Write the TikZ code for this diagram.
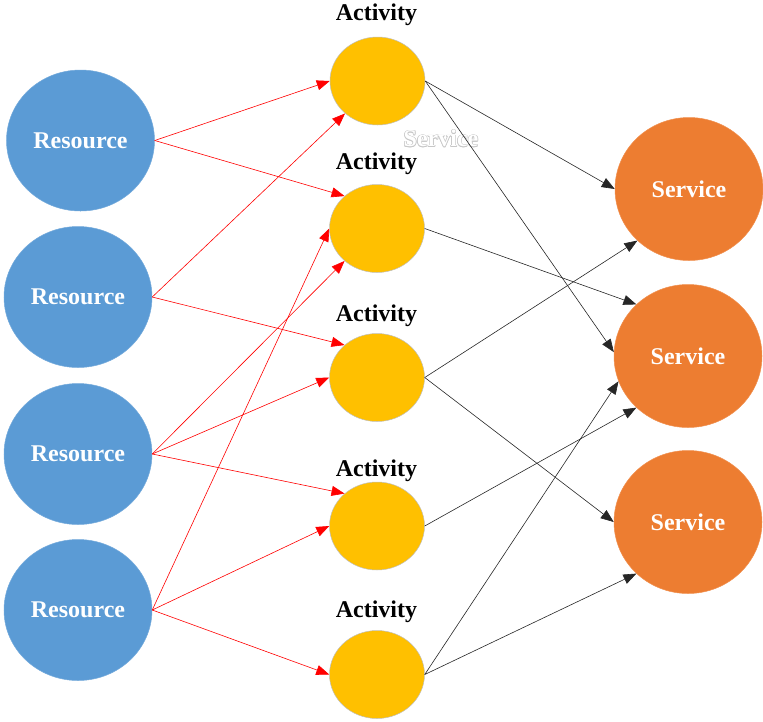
\documentclass[tikz,border=0pt]{standalone}
\usepackage{fontspec}
\setmainfont{Liberation Serif}
\usetikzlibrary{arrows.meta,shapes.geometric}
\definecolor{resblue}{HTML}{5B9BD5}
\definecolor{actyellow}{HTML}{FFC000}
\definecolor{svcorange}{HTML}{ED7D31}
\begin{document}
\begin{tikzpicture}[x=1pt,y=-1pt,
  lbl/.style={font=\fontsize{24}{28}\selectfont\bfseries, inner sep=0pt},
  res/.style={ellipse, inner sep=0pt, minimum width=148pt, minimum height=141pt,
    fill=resblue, draw=resblue!85!white, line width=0.5pt, text=white, lbl},
  act/.style={ellipse, inner sep=0pt, minimum width=95pt, minimum height=88pt,
    fill=actyellow, draw=black!25, line width=0.5pt},
  svc/.style={ellipse, inner sep=0pt, minimum width=148pt, minimum height=143pt,
    fill=svcorange, draw=svcorange!85!white, line width=0.5pt, text=white, lbl},
  actlabel/.style={lbl, text=black},
  uses/.style={draw=red, line width=0.6pt, -{Triangle[length=13pt,width=10pt]}},
  feeds/.style={draw=black!85, line width=0.6pt, -{Triangle[length=13pt,width=10pt]}},
]
\useasboundingbox (0,0) rectangle (763,721);

% faint outlined caption left over between the columns
\foreach \dx/\dy [count=\k] in {0.6/0,-0.6/0,0/0.6,0/-0.6,0.45/0.45,-0.45/0.45,0.45/-0.45,-0.45/-0.45}
  \node[lbl, text=black!22] (ghostedge\k) at (441+\dx,138.5+\dy) {Service};
\node[lbl, text=white] (ghost) at (441,138.5) {Service};

% resources
\node[res] (r1) at (80.5,140.5) {Resource};
\node[res] (r2) at (78,297) {Resource};
\node[res] (r3) at (78,454) {Resource};
\node[res] (r4) at (78,610) {Resource};

% activities
\node[act] (a1) at (377.5,81) {};
\node[act] (a2) at (377,228.5) {};
\node[act] (a3) at (377,377.5) {};
\node[act] (a4) at (377,526) {};
\node[act] (a5) at (377,674.5) {};

\node[actlabel] (l1) at (376.5,15) {Activity};
\node[actlabel] (l2) at (376.5,164) {Activity};
\node[actlabel] (l3) at (376.5,316) {Activity};
\node[actlabel] (l4) at (376.5,471) {Activity};
\node[actlabel] (l5) at (376.5,612) {Activity};

% services
\node[svc] (s1) at (689,189) {Service};
\node[svc] (s2) at (688,356) {Service};
\node[svc] (s3) at (688,522) {Service};

% resources used by activities
\draw[uses] (r1.east) -- (a1.180);
\draw[uses] (r1.east) -- (a2.135);
\draw[uses] (r2.east) -- (a1.225);
\draw[uses] (r2.east) -- (a3.135);
\draw[uses] (r3.east) -- (a2.225);
\draw[uses] (r3.east) -- (a3.180);
\draw[uses] (r3.east) -- (a4.135);
\draw[uses] (r4.east) -- (a2.180);
\draw[uses] (r4.east) -- (a4.180);
\draw[uses] (r4.east) -- (a5.180);

% activities delivering services
\draw[feeds] (a1.east) -- (s1.180);
\draw[feeds] (a1.east) -- (s2.177);
\draw[feeds] (a2.east) -- (s2.135);
\draw[feeds] (a3.east) -- (s1.225);
\draw[feeds] (a3.east) -- (s3.180);
\draw[feeds] (a4.east) -- (s2.225);
\draw[feeds] (a5.east) -- (s2.200);
\draw[feeds] (a5.east) -- (s3.225);
\end{tikzpicture}
\end{document}
